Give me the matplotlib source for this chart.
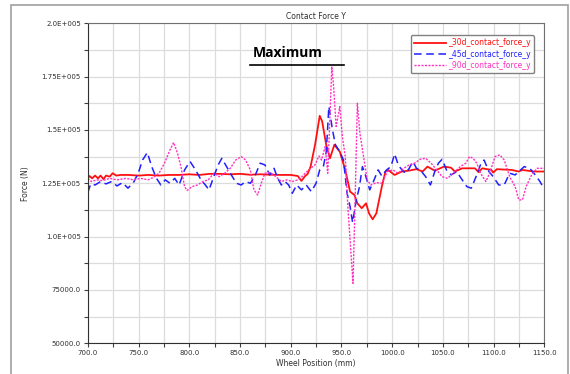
import matplotlib
matplotlib.use("Agg")
import matplotlib.pyplot as plt
import numpy as np
from matplotlib.patches import Rectangle
from matplotlib.ticker import MultipleLocator, FixedLocator, FixedFormatter

# wheel position (mm) and contact force (kN)
x_30d = [700, 701.8, 704.3, 707.2, 710.1, 712.6, 715.5, 718, 721.6, 724.5, 728.1, 732.4,
         740, 750, 760, 770, 780, 790, 800, 810, 820, 830, 840, 850, 860, 870, 880, 890,
         900, 907, 910.6, 914.2, 916.7, 919.6, 924, 928.6, 931, 935, 938.7, 943, 948.4,
         953.8, 958.5, 962.8, 965.7, 970, 974.3, 977.2, 980.8, 984.4, 989.8, 993.4, 995.9,
         1002.4, 1009.6, 1016, 1024, 1030, 1034.8, 1042, 1051, 1058, 1061.8, 1069, 1081.6,
         1085.2, 1088.8, 1097.8, 1099.6, 1103.2, 1117.6, 1124.8, 1128.4, 1139.2, 1150]
f_30d = [127.3, 128.4, 127.3, 128.6, 127.3, 128.6, 126.9, 128.6, 128.1, 129.7, 128.6, 128.9,
         128.9, 128.6, 128.9, 128.6, 128.9, 128.9, 129.2, 128.9, 129.4, 129.4, 129.2, 129.4,
         129.0, 129.2, 129.0, 128.9, 128.9, 128.4, 126.1, 128.4, 129.4, 132.8, 143.0, 156.6,
         154.0, 143.0, 136.7, 143.0, 139.8, 131.25, 121.1, 119.5, 115.6, 113.3, 115.6, 110.9,
         108.1, 110.9, 123.4, 130.5, 131.25, 128.9, 130.5, 130.9, 131.6, 130.5, 132.8, 130.9,
         132.8, 132.3, 130.5, 132.0, 132.0, 130.2, 132.0, 131.25, 130.0, 131.6, 131.25, 130.5,
         131.25, 130.5, 130.5]

x_45d = [700, 702.9, 707.2, 712.6, 718, 723.4, 728.8, 734.2, 739.6, 745, 749.7, 754, 758.7,
         763, 767.7, 772, 776.3, 781, 785.7, 790, 795.4, 800.8, 806.2, 811.6, 815.9, 819.5,
         824.2, 828.5, 832.1, 836.8, 841.5, 846.5, 851.2, 855.5, 860.2, 864.5, 869.9, 874.6,
         879.3, 883.6, 887.2, 890.8, 894.4, 898, 901.6, 905.9, 910.6, 915.3, 920.3, 925,
         928.6, 932.2, 935.1, 937.6, 941.2, 944.1, 948.4, 952, 955.6, 958.5, 961, 964.6,
         967.5, 970.7, 973.6, 977.9, 981.5, 986.2, 989.8, 994.5, 998.8, 1002.4, 1006, 1009.6,
         1013.2, 1016.8, 1020.4, 1024, 1027.6, 1033, 1037.7, 1042, 1045.6, 1049.2, 1053.5,
         1058.2, 1063.6, 1069, 1073.7, 1078, 1082.7, 1087, 1090.6, 1095.3, 1099.6, 1105,
         1110.4, 1115.8, 1121.2, 1126.6, 1130.2, 1135.6, 1141, 1145.7, 1149.3]
f_45d = [120.6, 124.7, 124.2, 125.8, 124.7, 125.8, 123.75, 125.3, 122.7, 125.3, 129.7, 135.9,
         139.4, 132.8, 127.3, 124.2, 126.6, 125.0, 127.3, 124.2, 131.25, 135.2, 131.25, 126.6,
         124.2, 121.9, 128.1, 133.6, 136.7, 132.8, 128.9, 125.0, 124.2, 125.8, 125.0, 128.1,
         134.4, 133.6, 128.9, 132.0, 127.3, 124.2, 125.8, 124.2, 120.3, 124.2, 121.9, 124.2,
         121.1, 125.0, 131.25, 132.8, 140.0, 160.9, 150.0, 143.0, 139.8, 135.9, 120.3, 114.1,
         106.6, 117.2, 122.7, 132.8, 128.9, 121.9, 125.8, 131.25, 128.4, 131.25, 132.8, 138.75,
         133.6, 131.25, 129.7, 132.0, 135.2, 132.0, 131.25, 128.1, 124.2, 130.5, 134.4, 136.25,
         131.25, 128.9, 130.5, 126.6, 123.4, 122.7, 128.1, 133.6, 135.9, 130.5, 128.1, 124.2,
         124.2, 129.7, 128.9, 131.25, 132.8, 132.0, 128.9, 125.8, 122.7]

x_90d = [700, 703.6, 709, 714.4, 721.6, 728.8, 737.8, 745, 752.2, 759.4, 764.8, 770.2, 775.6,
         781, 784.6, 788.2, 791.8, 795.4, 797.9, 802.6, 808, 813.4, 818.8, 824.2, 829.6, 835,
         840.4, 845.8, 851.2, 855.5, 860.2, 863.8, 867.4, 871, 874.6, 880, 885.4, 890.8, 896.2,
         901.6, 907, 910.6, 914.2, 919.6, 923.9, 927.9, 930.4, 934, 936.5, 938.7, 940.5, 942.3,
         944.8, 948.4, 950.9, 953.8, 956.3, 959.2, 961.4, 963.5, 965.7, 968.2, 971.8, 975.4,
         979, 984.4, 989.8, 995.2, 1000.6, 1006, 1011.4, 1016.8, 1022.2, 1027.6, 1033, 1038.4,
         1043.8, 1049.2, 1054.6, 1060, 1067.2, 1072.6, 1076.2, 1079.8, 1083.4, 1087, 1092.4,
         1096, 1101.4, 1106.1, 1110.4, 1115.8, 1121.2, 1124.8, 1128.4, 1132, 1137.4, 1142.8,
         1150]
f_90d = [127.3, 125.8, 126.6, 126.25, 127.3, 126.6, 127.3, 126.6, 127.3, 126.6, 127.8, 129.7,
         134.4, 140.6, 144.1, 139.4, 132.8, 123.4, 121.6, 123.4, 124.2, 125.8, 126.6, 129.7,
         128.1, 129.7, 132.0, 135.9, 137.5, 135.9, 131.25, 121.9, 119.5, 125.0, 129.7, 130.0,
         128.1, 125.8, 126.6, 125.8, 126.6, 127.8, 129.7, 132.0, 133.6, 137.8, 135.9, 142.2,
         129.7, 156.3, 179.7, 170.3, 151.6, 160.9, 146.9, 137.5, 114.1, 93.75, 78.1, 117.2,
         162.5, 148.4, 137.5, 126.6, 124.2, 125.3, 125.0, 130.5, 131.25, 129.7, 132.0, 133.6,
         134.4, 136.25, 136.7, 134.4, 131.25, 128.1, 127.3, 129.7, 132.8, 134.4, 137.5, 136.7,
         134.4, 129.7, 125.8, 129.7, 137.5, 138.3, 135.9, 128.1, 123.4, 117.2, 117.2, 123.4,
         128.9, 132.0, 132.0]

series_names = ["_30d_contact_force_y", "_45d_contact_force_y", "_90d_contact_force_y"]

y_ticks = [50000, 75000, 100000, 125000, 150000, 175000, 200000]
y_labels = ["50000.0", "75000.0", "1.0E+005", "1.25E+005", "1.5E+005", "1.75E+005", "2.0E+005"]

fig = plt.figure(figsize=(5.70, 3.74), dpi=100)
fig.patches.append(Rectangle((0.019, -0.01), 0.978, 0.997, transform=fig.transFigure,
                             fill=False, edgecolor="#a0a0a0", linewidth=1.2))
ax = fig.add_axes([0.154, 0.082, 0.801, 0.856])

l1, = ax.plot(x_30d, np.array(f_30d) * 1000, color="#ff1010", lw=1.3)
l2, = ax.plot(x_45d, np.array(f_45d) * 1000, color="#2020ff", lw=1.1, ls=(0, (5, 3)))
l3, = ax.plot(x_90d, np.array(f_90d) * 1000, color="#ff30c0", lw=1.0, ls=(0, (1.5, 1)))

ax.set_xlim(700, 1150)
ax.set_ylim(50000, 200000)
ax.xaxis.set_major_locator(MultipleLocator(50))
ax.xaxis.set_minor_locator(MultipleLocator(25))
ax.set_xticklabels([f"{v:.1f}" for v in ax.get_xticks()])
ax.yaxis.set_major_locator(FixedLocator(y_ticks))
ax.yaxis.set_major_formatter(FixedFormatter(y_labels))
ax.yaxis.set_minor_locator(MultipleLocator(12500))
ax.grid(True, which="both", color="#dcdcdc", lw=0.9)
ax.set_axisbelow(True)
ax.tick_params(which="both", direction="out", length=3, width=0.8, color="#404040",
               labelsize=5, labelcolor="#303030", pad=2)
for s in ["top", "right"]:
    ax.spines[s].set_color("#707070")
for s in ["left", "bottom"]:
    ax.spines[s].set_color("#303030")

ax.set_title("Contact Force Y", fontsize=5.5, color="#303030", pad=3)
ax.set_xlabel("Wheel Position (mm)", fontsize=5.5, color="#303030", labelpad=2)
ax.set_ylabel("Force (N)", fontsize=5.5, color="#303030", labelpad=8)

# labels start with "_" so they have to be passed explicitly
leg = ax.legend([l1, l2, l3], series_names, loc="upper right", bbox_to_anchor=(0.985, 0.975),
                fontsize=5.5, handlelength=4.2, handletextpad=0.2, labelspacing=0.3,
                borderpad=0.45, framealpha=1, edgecolor="#808080", fancybox=True)
for t, l in zip(leg.get_texts(), leg.get_lines()):
    t.set_color(l.get_color())

ax.text(862.7, 186000, "Maximum", fontsize=10, fontweight="bold", family="Open Sans",
        va="center", ha="left")
ax.plot([859.4, 953], [180450, 180450], color="black", lw=1.2)

fig.savefig("out.png", dpi=100)
